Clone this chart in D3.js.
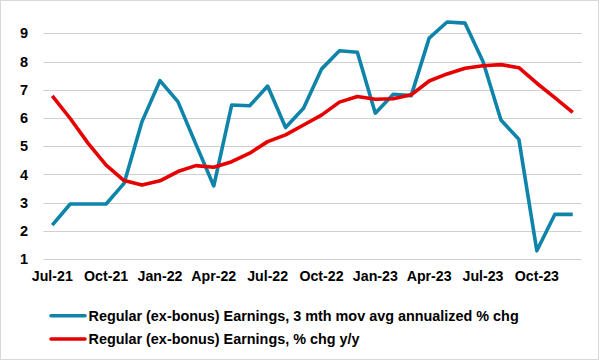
<!DOCTYPE html>
<html><head><meta charset="utf-8">
<script src="https://cdn.jsdelivr.net/npm/d3@7"></script>
<style>
html,body{margin:0;padding:0;background:#fff;}
svg{display:block;font-family:"Liberation Sans",Arial,sans-serif;}
</style></head>
<body><svg id="c" width="600" height="361"></svg>
<script>
const months = ["Jul-21","Aug-21","Sep-21","Oct-21","Nov-21","Dec-21","Jan-22","Feb-22","Mar-22","Apr-22","May-22","Jun-22","Jul-22","Aug-22","Sep-22","Oct-22","Nov-22","Dec-22","Jan-23","Feb-23","Mar-23","Apr-23","May-23","Jun-23","Jul-23","Aug-23","Sep-23","Oct-23","Nov-23","Dec-23"];
const tickLabels = ["Jul-21","Oct-21","Jan-22","Apr-22","Jul-22","Oct-22","Jan-23","Apr-23","Jul-23","Oct-23"];
const yTicks = [1,2,3,4,5,6,7,8,9];
const seriesNames = ["Regular (ex-bonus) Earnings, 3 mth mov avg annualized % chg","Regular (ex-bonus) Earnings, % chg y/y"];
const mma3 = [2.2,2.95,2.95,2.95,3.68,5.87,7.32,6.58,5.07,3.59,6.46,6.43,7.13,5.66,6.34,7.73,8.38,8.33,6.17,6.84,6.79,8.83,9.4,9.36,8.0,5.93,5.24,1.29,2.58,2.58];
const yoy = [6.78,5.98,5.1,4.33,3.78,3.62,3.77,4.1,4.31,4.25,4.45,4.75,5.16,5.4,5.75,6.1,6.56,6.76,6.66,6.68,6.82,7.31,7.56,7.76,7.85,7.89,7.78,7.23,6.72,6.2];
const colors = ["#0F84AA","#E60000"];

const svg = d3.select("#c");
svg.append("rect").attr("x",0.5).attr("y",0.5).attr("width",598).attr("height",359)
  .attr("fill","#fff").attr("stroke","#d9d9d9");

const x = d3.scaleBand().domain(months).range([43.3,581.7]).padding(0);
const y = d3.scaleLinear().domain([1,9]).range([259,33.3]);
const cx = d => x(d) + x.bandwidth()/2;

// gridlines
svg.append("g").selectAll("line").data(yTicks).join("line")
  .attr("x1",43.3).attr("x2",581.7)
  .attr("y1",d=>Math.round(y(d))+0.5).attr("y2",d=>Math.round(y(d))+0.5)
  .attr("stroke","#d0d0d0").attr("stroke-width",1);

// y axis labels
const yAxis = d3.axisLeft(y).tickValues(yTicks).tickSize(0).tickPadding(0);
const gy = svg.append("g").attr("transform","translate(28,0)").call(yAxis);
gy.select(".domain").remove();
gy.selectAll("text").attr("font-size",14.5).attr("font-weight","bold").attr("fill","#000")
  .attr("font-family","'Liberation Sans',Arial,sans-serif");

// x axis labels
const xAxis = d3.axisBottom(x).tickValues(tickLabels).tickSize(0).tickPadding(0);
const gx = svg.append("g").attr("transform","translate(0,271)").call(xAxis);
gx.select(".domain").remove();
gx.selectAll("text").attr("font-size",14.2).attr("font-weight","bold").attr("fill","#000")
  .attr("font-family","'Liberation Sans',Arial,sans-serif");

const line = d3.line().x((d,i)=>cx(months[i])).y(d=>y(d));
[mma3, yoy].forEach((s,k)=>{
  svg.append("path").datum(s).attr("d",line).attr("fill","none")
    .attr("stroke",colors[k]).attr("stroke-width",3.6)
    .attr("stroke-linejoin","round").attr("stroke-linecap","butt");
});

// legend
const lg = svg.append("g");
const ly = [315.7, 339];
seriesNames.forEach((n,k)=>{
  lg.append("line").attr("x1",51).attr("x2",85).attr("y1",ly[k]).attr("y2",ly[k])
    .attr("stroke",colors[k]).attr("stroke-width",3.6).attr("stroke-linecap","round");
  lg.append("text").attr("x",88.5).attr("y",ly[k]+5).text(n)
    .attr("font-size",14.4).attr("font-weight","bold").attr("fill","#000")
    .attr("font-family","'Liberation Sans',Arial,sans-serif");
});
</script></body></html>
